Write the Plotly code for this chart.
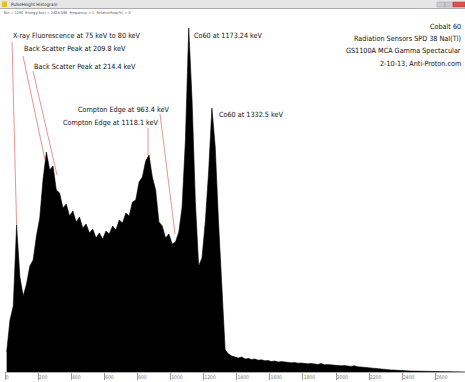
import plotly.graph_objects as go

# ---------------- data ----------------
BIN_WIDTH = 20  # channels per bin
counts = [
    200, 520, 660, 1470, 950, 760, 880, 1060, 1120, 1360,
    1540, 1930, 2200, 2020, 2060, 1820, 1790, 1640, 1680, 1560,
    1610, 1500, 1550, 1440, 1480, 1390, 1430, 1340, 1390, 1330,
    1410, 1380, 1460, 1420, 1520, 1490, 1590, 1560, 1700, 1720,
    1900, 1950, 2110, 2170, 1950, 1820, 1500, 1460, 1340, 1380,
    1280, 1300, 1400, 1650, 2320, 3440, 2720, 1700, 1060, 1140,
    1500, 2000, 2640, 2250, 1500, 820, 220, 180, 160, 150,
    140, 150, 130, 135, 125, 130, 118, 122, 112, 115,
    105, 110, 100, 104, 98, 95, 92, 96, 88, 90,
    85, 82, 86, 80, 76, 84, 72, 74, 70, 71,
    66, 62, 64, 58, 56, 62, 52, 50, 46, 42,
    41, 36, 32, 31, 26, 22, 21, 19, 16, 15,
    12, 11, 10, 9, 8, 8, 7, 6, 5, 5,
    3, 2, 0, 0, 0, 0, 0, 0, 0, 0,
]
channels = [BIN_WIDTH * i + BIN_WIDTH / 2 for i in range(len(counts))]

tick_vals = list(range(0, 2601, 200))
tick_text = [str(v) for v in tick_vals]

peak_labels = [
    "X-ray Fluorescence at 75 keV to 80 keV",
    "Back Scatter Peak at 209.8 keV",
    "Back Scatter Peak at 214.4 keV",
    "Compton Edge at 963.4 keV",
    "Compton Edge at 1118.1 keV",
    "Co60 at 1173.24 keV",
    "Co60 at 1332.5 keV",
]
info_lines = [
    "Cobalt 60",
    "Radiation Sensors SPD 38 NaI(Tl)",
    "GS1100A MCA Gamma Spectacular",
    "2-10-13, Anti-Proton.com",
]
window_title = "PulseHeight Histogram"
status_text = "Bin = 1290  Energy(kev) = 2828.596  Frequency = 1  RelativeFreq(%) = 0"

# ---------------- layout helpers ----------------
W, H = 465, 382
ML, MR, MT, MB = 5, 0, 12, 10
X_MAX = 2779
Y_MAX = 3600


def px(xp):
    return (xp - ML) / (W - ML - MR)


def py(yp):
    return (H - MB - yp) / (H - MT - MB)


FONT = "DejaVu Sans Condensed, Liberation Sans Narrow, Arial Narrow, Liberation Sans, Arial"
TXT = 7.2

fig = go.Figure()
fig.add_trace(go.Scatter(
    x=channels, y=counts, mode="lines",
    line=dict(color="black", width=0.6),
    fill="tozeroy", fillcolor="black",
    hoverinfo="skip", showlegend=False,
))

annotations = []
# peak labels: (text index, left px, center y px)
label_pos = [(0, 11, 36), (1, 22, 49), (2, 32, 66), (3, 76, 109), (4, 61, 122), (5, 192, 35), (6, 217, 114)]
for idx, xl, yc in label_pos:
    annotations.append(dict(text=peak_labels[idx], xref="paper", yref="paper",
                            x=px(xl), y=py(yc), xanchor="left", yanchor="middle",
                            showarrow=False, font=dict(family=FONT, size=TXT, color="#111")))

# right info block (right aligned against the window edge)
for k, t in enumerate(info_lines):
    annotations.append(dict(text=t, xref="paper", yref="paper",
                            x=px(463), y=py(27 + 12 * k), xanchor="right", yanchor="middle",
                            showarrow=False, font=dict(family=FONT, size=TXT, color="#111")))

# window title and status line
annotations.append(dict(text=window_title, xref="paper", yref="paper", x=px(9), y=py(4),
                        xanchor="left", yanchor="middle", showarrow=False,
                        font=dict(family=FONT, size=4.5, color="#333")))
annotations.append(dict(text=status_text, xref="paper", yref="paper", x=px(2), y=py(12),
                        xanchor="left", yanchor="middle", showarrow=False,
                        font=dict(family=FONT, size=3.8, color="#555")))


def ch(xp):
    return (xp - ML) / (W - ML - MR) * X_MAX


def cnt(yp):
    return (H - MB - yp) / (H - MT - MB) * Y_MAX


RED = "#e07a7a"
shapes = [
    # title bar
    dict(type="rect", xref="paper", yref="paper", x0=px(0), x1=px(465), y0=py(8.5), y1=py(0),
         fillcolor="#e6e6e6", line=dict(width=0), layer="above"),
    dict(type="line", xref="paper", yref="paper", x0=px(0), x1=px(465), y0=py(8.5), y1=py(8.5),
         line=dict(color="#9a9a9a", width=0.8)),
    dict(type="rect", xref="paper", yref="paper", x0=px(2), x1=px(7), y0=py(7), y1=py(1.5),
         fillcolor="#e8c020", line=dict(width=0)),
    dict(type="rect", xref="paper", yref="paper", x0=px(437), x1=px(445), y0=py(7), y1=py(2),
         fillcolor="#c8ccd4", line=dict(color="#999", width=0.5)),
    dict(type="rect", xref="paper", yref="paper", x0=px(445), x1=px(453), y0=py(7), y1=py(2),
         fillcolor="#c8ccd4", line=dict(color="#999", width=0.5)),
    dict(type="rect", xref="paper", yref="paper", x0=px(453), x1=px(465), y0=py(7), y1=py(2),
         fillcolor="#d9534a", line=dict(color="#a33", width=0.5)),
    # leader lines
    dict(type="line", x0=ch(12), y0=cnt(42), x1=channels[3], y1=counts[3], line=dict(color=RED, width=0.8)),
    dict(type="line", x0=ch(23), y0=cnt(56), x1=ch(45), y1=cnt(160), line=dict(color=RED, width=0.8)),
    dict(type="line", x0=ch(33), y0=cnt(71), x1=ch(57), y1=cnt(175), line=dict(color=RED, width=0.8)),
    dict(type="line", x0=ch(160), y0=cnt(114), x1=ch(175), y1=cnt(234), line=dict(color=RED, width=0.8)),
    dict(type="line", x0=ch(148), y0=cnt(128), x1=ch(148), y1=cnt(155), line=dict(color=RED, width=0.8)),
]

fig.update_layout(
    width=W, height=H,
    margin=dict(l=ML, r=MR, t=MT, b=MB, pad=0),
    paper_bgcolor="white", plot_bgcolor="white",
    showlegend=False,
    annotations=annotations, shapes=shapes,
    xaxis=dict(range=[0, X_MAX], tickmode="array", tickvals=tick_vals, ticktext=tick_text,
               ticks="outside", ticklen=7, tickwidth=0.6, tickcolor="#999",
               ticklabelposition="outside right", tickfont=dict(family=FONT, size=5, color="#777"),
               showline=True, linecolor="#aaa", linewidth=0.8, showgrid=False, zeroline=False,
               fixedrange=True),
    yaxis=dict(range=[0, Y_MAX], visible=False, showgrid=False, zeroline=False, fixedrange=True),
)

fig.write_html("out.html")
